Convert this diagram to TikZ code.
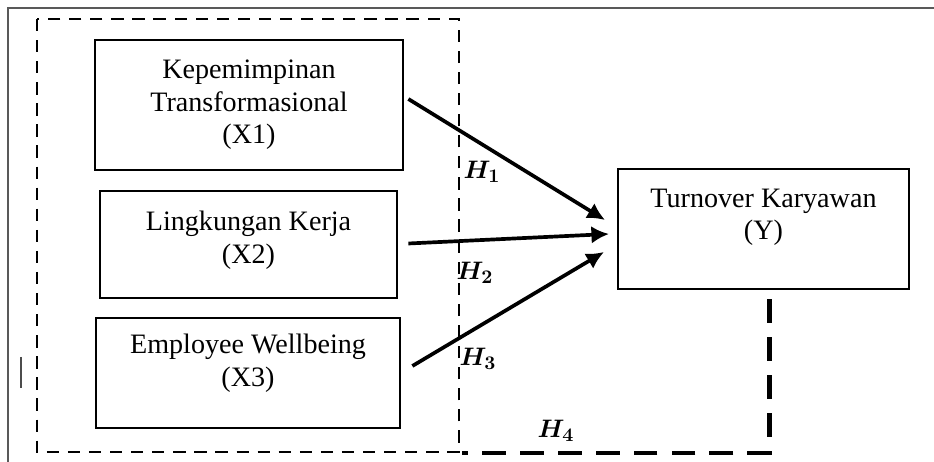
\documentclass[tikz,border=0pt]{standalone}
\usepackage{amsmath, amssymb}
\usepackage{fontspec}
\setmainfont{Liberation Serif}
\usetikzlibrary{arrows.meta}

\tikzset{
  varbox/.style={draw, line width=1.6pt, align=center, inner sep=0pt,
    font=\fontsize{16}{18.5}\selectfont},
  hyp/.style={->, line width=2.1pt},
  hlabel/.style={font=\fontsize{15}{17}\selectfont},
  group/.style={line width=1.7pt, dash pattern=on 7pt off 5pt},
  moderate/.style={line width=2.6pt, dash pattern=on 13.6pt off 8pt},
}

\begin{document}
\begin{tikzpicture}[>={Latex[length=10pt,width=10pt]}, x=0.02cm, y=-0.02cm]
	\useasboundingbox (0,0) rectangle (934,462);
	% bingkai luar
	\draw[gray!70!black, line width=0.9pt] (8,462) -- (8,8) -- (934,8);
	\draw[gray!60!black, line width=0.6pt] (21,357) -- (21,388);
	
	% kelompok variabel bebas
	\draw[group] (37,19) rectangle (459,452);
	
	% variabel
	\node[varbox, minimum width=6.16cm, minimum height=2.6cm] (x1) at (249,105) {Kepemimpinan\\Transformasional\\(X1)};
	\node[varbox, minimum width=5.94cm, minimum height=2.14cm, text depth=8pt] (x2) at (248.5,244.5) {Lingkungan Kerja\\(X2)};
	\node[varbox, minimum width=6.08cm, minimum height=2.2cm, text depth=14.3pt] (x3) at (248,373) {Employee Wellbeing\\(X3)};
	\node[varbox, minimum width=5.82cm, minimum height=2.4cm, text depth=16.5pt] (y) at (763.5,229) {Turnover Karyawan\\(Y)};
	
	% ujung panah
	\coordinate (t1) at (605,220);
	\coordinate (t2) at (609,234);
	\coordinate (t3) at (604,252);
	\coordinate (c4) at (462,453);
	
	% hipotesis
	\draw[hyp] ([shift={(4,-6)}]x1.east) -- (t1);
	\draw[hyp] ([shift={(10,-1)}]x2.east) -- (t2);
	\draw[hyp] ([shift={(11,-7)}]x3.east) -- (t3);
	\draw[moderate] ([shift={(6,9)}]y.south) |- (c4);
	
	\node[hlabel] (h1) at (482,172) {$\boldsymbol{H_1}$};
	\node[hlabel] (h2) at (475,273) {$\boldsymbol{H_2}$};
	\node[hlabel] (h3) at (478,359) {$\boldsymbol{H_3}$};
	\node[hlabel] (h4) at (556,431) {$\boldsymbol{H_4}$};
\end{tikzpicture}
\end{document}
